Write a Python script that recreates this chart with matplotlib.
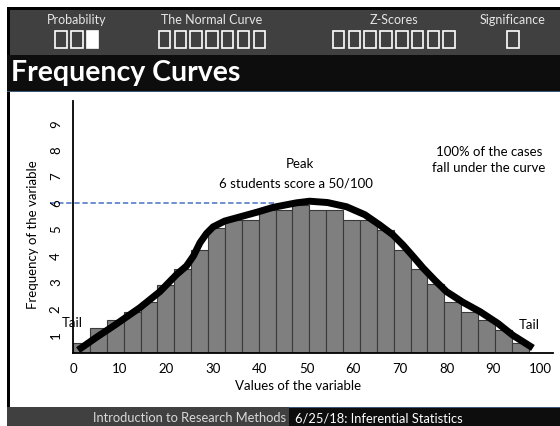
import matplotlib.pyplot as plt
from matplotlib.patches import Rectangle
import numpy as np

# bar heights (frequency per bin of the variable)
bar_heights = [0.72, 1.26, 1.56, 1.87, 2.25, 2.90, 3.50, 4.22, 5.04, 5.35, 5.35, 5.73, 5.73, 5.92,
               5.73, 5.73, 5.35, 5.35, 5.00, 4.22, 3.50, 2.93, 2.25, 1.87, 1.57, 1.20, 0.72]
bin_width = 3.615

# hand drawn frequency curve
curve_x = [1.1, 5.0, 9.0, 14.3, 18.6, 22.2, 24.3, 25.8, 27.2, 28.6, 30.0, 32.5, 35.8, 39.5, 42.9,
           47.9, 50.7, 54.5, 58.6, 62.5, 65.7, 68.5, 70.7, 73.0, 75.0, 77.5, 80.0, 83.5, 87.2,
           91.0, 94.2, 98.5]
curve_y = [0.44, 0.92, 1.39, 2.04, 2.65, 3.30, 3.62, 4.00, 4.50, 4.85, 5.10, 5.32, 5.48, 5.66, 5.84,
           6.01, 6.07, 6.02, 5.86, 5.56, 5.17, 4.80, 4.41, 3.95, 3.54, 3.08, 2.65, 2.25, 1.89,
           1.45, 1.00, 0.52]

x_ticks = [0, 10, 20, 30, 40, 50, 60, 70, 80, 90, 100]
y_ticks = [1, 2, 3, 4, 5, 6, 7, 8, 9]

nav_sections = ['Probability', 'The Normal Curve', 'Z-Scores', 'Significance']
nav_centers = [77, 212, 394, 513]
nav_counts = [3, 7, 8, 1]
nav_current = (0, 2)   # заполненный квадрат

FONT = 'Lato'
W, H = 560, 426
fig = plt.figure(figsize=(W / 100, H / 100), dpi=100)


def fx(x):
    return x / W


def fy(y):
    return 1 - y / H


def box(x0, y0, x1, y1, color, **kw):
    fig.patches.append(Rectangle((fx(x0), fy(y1)), (x1 - x0) / W, (y1 - y0) / H,
                                 transform=fig.transFigure, facecolor=color, edgecolor='none',
                                 zorder=-5, **kw))


# рамка слайда, шапка, заголовок, подвал
box(7, 7, 560, 407, 'black')
box(10, 10, 560, 54.5, '#404040')
box(7, 54.5, 560, 91, '#0d0d0d')
box(7, 91, 560, 92, '#3b5677')
box(10, 92, 560, 407, 'white')
box(7, 407, 289, 426, '#404040')
box(289, 407, 560, 426, '#0d0d0d')
box(289, 407, 560, 408, '#3b5677')

for i, (name, cx, n) in enumerate(zip(nav_sections, nav_centers, nav_counts)):
    fig.text(fx(cx), fy(20), name, color='#e6e6e6', fontsize=9, family=FONT, ha='center', va='center')
    pitch = 15.8
    start = cx - pitch * n / 2
    for k in range(n):
        filled = (i, k) == nav_current
        fig.patches.append(Rectangle((fx(start + k * pitch + 2), fy(47.5)), 11.5 / W, 16.5 / H,
                                     transform=fig.transFigure, facecolor='white' if filled else 'none',
                                     edgecolor='white', linewidth=1.2, zorder=-4))

fig.text(fx(11), fy(73), 'Frequency Curves', color='white', fontsize=20.5, fontweight='bold',
         family=FONT, ha='left', va='center')

fig.text(fx(286), fy(418.5), 'Introduction to Research Methods', color='#d9d9d9', fontsize=9.3,
         family=FONT, ha='right', va='center')
fig.text(fx(295), fy(418.5), '6/25/18: Inferential Statistics', color='white', fontsize=9.3,
         family=FONT, ha='left', va='center')

# график
ax = fig.add_axes([fx(73), fy(353), (553 - 73) / W, (353 - 101) / H])
ax.set_facecolor('none')
lefts = np.arange(len(bar_heights)) * bin_width
ax.bar(lefts, bar_heights, width=bin_width, align='edge', color='#7f7f7f',
       edgecolor='#3a3a3a', linewidth=0.8, zorder=2)
ax.plot(curve_x, curve_y, color='black', linewidth=5, solid_capstyle='butt',
        solid_joinstyle='round', zorder=3)
ax.plot([-4.9, 43], [6, 6], color='#4472c4', linewidth=1.1, linestyle=(0, (3.5, 1.8)),
        clip_on=False, zorder=1)

ax.set_xlim(0, 102.8)
ax.set_ylim(0.33, 9.86)
ax.set_xticks(x_ticks)
ax.set_yticks(y_ticks)
ax.tick_params(length=0, labelsize=9.5)
ax.tick_params(axis='x', pad=7)
ax.tick_params(axis='y', pad=8)
for lbl in ax.get_yticklabels():
    lbl.set_rotation(90)
    lbl.set_va('center')
for lbl in ax.get_xticklabels() + ax.get_yticklabels():
    lbl.set_family(FONT)
for s in ['top', 'right']:
    ax.spines[s].set_visible(False)
for s in ['left', 'bottom']:
    ax.spines[s].set_linewidth(1.3)
    ax.spines[s].set_color('black')

fig.text(fx(298), fy(386), 'Values of the variable', fontsize=9.5, family=FONT, ha='center', va='center')
fig.text(fx(33), fy(235), 'Frequency of the variable', fontsize=9.5, family=FONT, rotation=90,
         ha='center', va='center')

ax.text(48.6, 7.47, 'Peak', fontsize=9.5, family=FONT, ha='center', va='center')
ax.text(47.8, 6.74, '6 students score a 50/100', fontsize=9.5, family=FONT, ha='center', va='center')
ax.text(89.1, 7.94, '100% of the cases', fontsize=9.5, family=FONT, ha='center', va='center')
ax.text(89.1, 7.31, 'fall under the curve', fontsize=9.5, family=FONT, ha='center', va='center')
ax.text(-0.1, 1.47, 'Tail', fontsize=9.5, family=FONT, ha='center', va='center', zorder=4)
ax.text(97.8, 1.39, 'Tail', fontsize=9.5, family=FONT, ha='center', va='center', zorder=4)

fig.savefig('out.png', dpi=100)
